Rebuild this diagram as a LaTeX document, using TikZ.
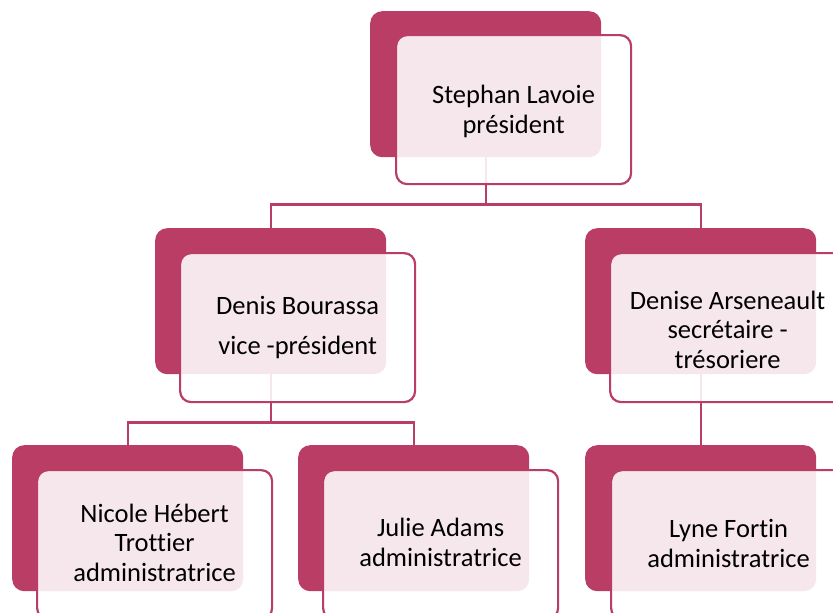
\documentclass[tikz,border=0pt]{standalone}
\usepackage{fontspec}
\setmainfont{Carlito}[Ligatures=NoCommon]
\definecolor{dpink}{RGB}{186,61,102}
\begin{document}
\begin{tikzpicture}[x=1pt,y=-1pt,
  backbox/.style={fill=dpink, draw=none, rounded corners=12pt, minimum width=231pt, minimum height=146pt, inner sep=0pt, anchor=north west},
  frontbox/.style={draw=dpink, line width=2.2pt, fill=white, fill opacity=0.88, rounded corners=11pt, minimum width=235pt, minimum height=149pt, inner sep=0pt, anchor=north west},
  label/.style={align=center, inner sep=0pt, text=black, font=\fontsize{26.5pt}{29.5pt}\selectfont},
  conn/.style={draw=dpink, line width=2.2pt}]
\useasboundingbox (0,0) rectangle (833,613);
\clip (0,0) rectangle (833,613);
% back boxes
\node[backbox] (b0) at (370,11) {};
\node[backbox] (b1) at (155,228) {};
\node[backbox] (b2) at (585,228) {};
\node[backbox] (b3) at (12,445) {};
\node[backbox] (b4) at (298,445) {};
\node[backbox] (b5) at (585,445) {};
% connectors
\coordinate (j0) at ([yshift=-47pt]b0.south);
\coordinate (j1) at ([yshift=-48pt]b1.south);
\draw[conn] (b0.south) -- (j0) -| (b1.north);
\draw[conn] (j0) -| (b2.north);
\draw[conn] (b1.south) -- (j1) -| (b3.north);
\draw[conn] (j1) -| (b4.north);
\draw[conn] (b2.south) -- (b5.north);
% front boxes
\node[frontbox] (f0) at (395,34) {};
\node[frontbox] (f1) at (179,252) {};
\node[frontbox] (f2) at (609,252) {};
\node[frontbox] (f3) at (36,469) {};
\node[frontbox] (f4) at (322,469) {};
\node[frontbox] (f5) at (610,469) {};
% texts
\node[label] (t0) at ([yshift=-2pt]f0.center) {Stephan Lavoie\\président};
\node[label] (t1) at (f1.center) {Denis Bourassa\\[10pt]vice -président};
\node[label] (t2) at ([yshift=-2pt]f2.center) {Denise Arseneault\\secrétaire -\\trésoriere};
\node[label] (t3) at ([yshift=2pt]f3.center) {Nicole Hébert\\Trottier\\administratrice};
\node[label] (t4) at ([yshift=2pt]f4.center) {Julie Adams\\administratrice};
\node[label] (t5) at ([yshift=1pt]f5.center) {Lyne Fortin\\administratrice};
\end{tikzpicture}
\end{document}
